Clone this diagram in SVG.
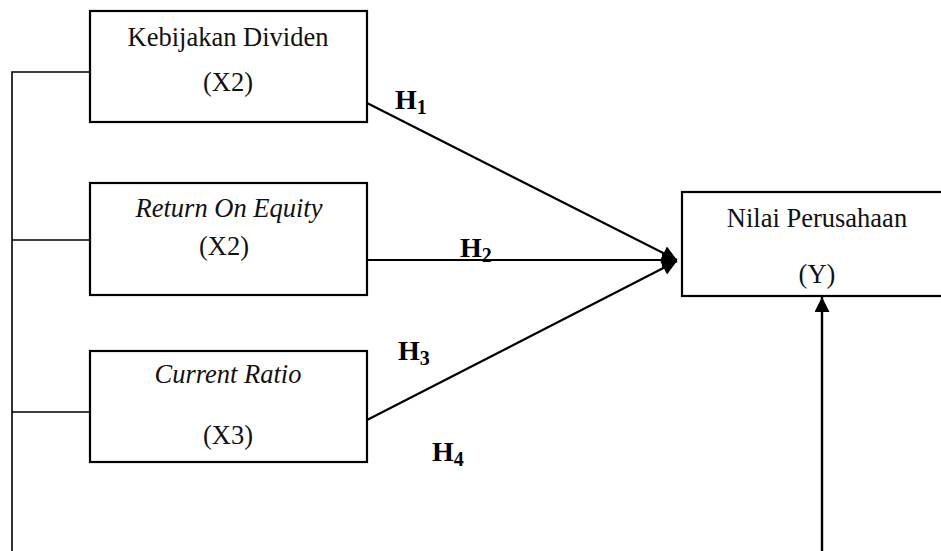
<svg xmlns="http://www.w3.org/2000/svg" width="941" height="551" viewBox="0 0 941 551">
<defs>
<style>
.box{fill:#fff;stroke:#000;stroke-width:2.2}
.t{font-family:"Liberation Serif","Times New Roman",serif;font-size:26.5px;fill:#111;text-anchor:middle}
.i{font-style:italic}
.h{font-family:"Liberation Serif","Times New Roman",serif;font-weight:bold;font-size:28px;fill:#000}
.s{font-size:20px}
.ln{stroke:#000;fill:none}
</style>
<marker id="ah" viewBox="0 0 10 10" refX="10" refY="5" markerWidth="17" markerHeight="15" markerUnits="userSpaceOnUse" orient="auto">
<path d="M0,0 L10,5 L0,10 Z" fill="#000"/>
</marker>
</defs>
<rect width="941" height="551" fill="#fff"/>
<g id="connectors">
<polyline class="ln" stroke-width="1.6" points="12,551 12,72 90,72"/>
<line class="ln" stroke-width="1.4" x1="12" y1="240" x2="92" y2="240"/>
<line class="ln" stroke-width="1.4" x1="12" y1="412" x2="90" y2="412"/>
<line class="ln" stroke-width="2.2" x1="367" y1="103" x2="677" y2="260" marker-end="url(#ah)"/>
<line class="ln" stroke-width="2.2" x1="367" y1="260" x2="677" y2="260" marker-end="url(#ah)"/>
<line class="ln" stroke-width="2.2" x1="367" y1="420" x2="677" y2="261" marker-end="url(#ah)"/>
<line class="ln" stroke-width="2.4" x1="822" y1="551" x2="822" y2="297" marker-end="url(#ah)"/>
</g>
<g id="x2-dividen">
<rect class="box" x="90" y="11" width="277" height="111"/>
<text class="t" x="228" y="46">Kebijakan Dividen</text>
<text class="t" x="228" y="91">(X2)</text>
</g>
<g id="x2-roe">
<rect class="box" x="90" y="183" width="277" height="112"/>
<text class="t i" x="229" y="217">Return On Equity</text>
<text class="t" x="224" y="255">(X2)</text>
</g>
<g id="x3-cr">
<rect class="box" x="90" y="351" width="277" height="111"/>
<text class="t i" x="228" y="383">Current Ratio</text>
<text class="t" x="228" y="444">(X3)</text>
</g>
<g id="y-nilai">
<rect class="box" x="682" y="192" width="270" height="104"/>
<text class="t" x="817" y="227">Nilai Perusahaan</text>
<text class="t" x="817" y="283">(Y)</text>
</g>
<g id="labels">
<text class="h" x="395" y="109">H<tspan class="s" dy="5">1</tspan></text>
<text class="h" x="460" y="257">H<tspan class="s" dy="5">2</tspan></text>
<text class="h" x="398" y="360">H<tspan class="s" dy="5">3</tspan></text>
<text class="h" x="432" y="461">H<tspan class="s" dy="5">4</tspan></text>
</g>
</svg>
